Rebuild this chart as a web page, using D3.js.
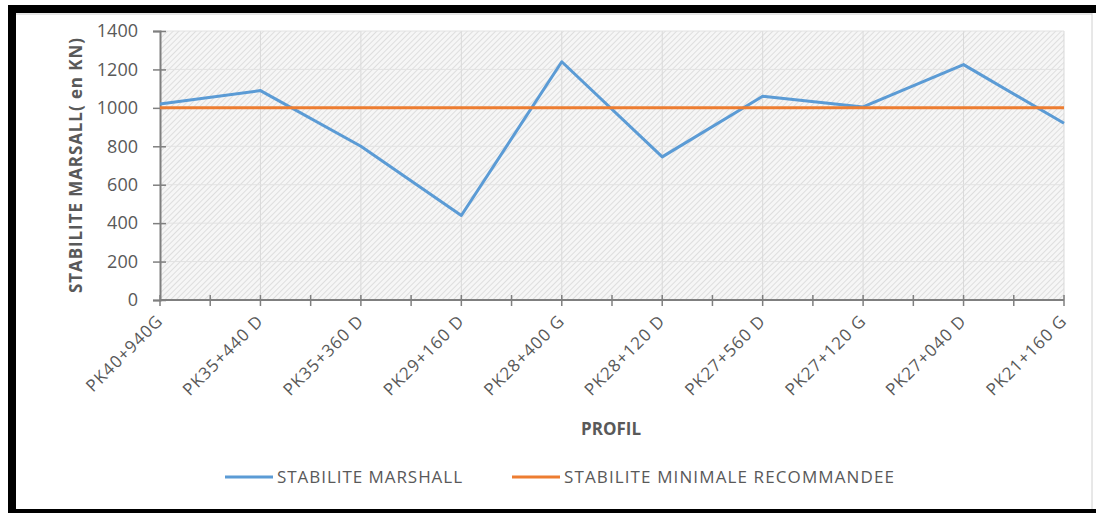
<!DOCTYPE html>
<html>
<head>
<meta charset="utf-8">
<script src="https://cdn.jsdelivr.net/npm/d3@7"></script>
<style>
  html, body { margin: 0; padding: 0; background: #fff; }
  svg { display: block; font-family: "Open Sans", sans-serif; }
</style>
</head>
<body>
<div id="chart"></div>
<script>
// données
const categories = ['PK40+940G', 'PK35+440 D', 'PK35+360 D', 'PK29+160 D', 'PK28+400 G',
  'PK28+120 D', 'PK27+560 D', 'PK27+120 G', 'PK27+040 D', 'PK21+160 G']
const stabiliteMarshall = [1020, 1090, 800, 440, 1240, 745, 1060, 1005, 1225, 920]
const stabiliteMinimale = [1000, 1000, 1000, 1000, 1000, 1000, 1000, 1000, 1000, 1000]
const yTicks = [0, 200, 400, 600, 800, 1000, 1200, 1400]
const seriesNames = ['STABILITE MARSHALL', 'STABILITE MINIMALE RECOMMANDEE']

const width = 1096
const height = 513
const plot = { left: 160, right: 1064, top: 31, bottom: 300 }
const colors = ['#5b9bd5', '#ed7d31']
const textColor = '#595959'

const svg = d3.select('#chart').append('svg').attr('width', width).attr('height', height)

// cadre noir
svg.append('rect').attr('x', 8).attr('y', 5).attr('width', width - 8).attr('height', 8).attr('fill', '#000')
svg.append('rect').attr('x', 8).attr('y', 5).attr('width', 8).attr('height', height - 5).attr('fill', '#000')
svg.append('rect').attr('x', 8).attr('y', 509).attr('width', width - 8).attr('height', 4).attr('fill', '#000')
svg.append('line').attr('x1', 16).attr('x2', 1092).attr('y1', 14).attr('y2', 14).attr('stroke', '#ccc')
svg.append('line').attr('x1', 1092).attr('x2', 1092).attr('y1', 13).attr('y2', 509).attr('stroke', '#d0d0d0')

// motif hachuré du fond
const defs = svg.append('defs')
defs.append('pattern')
  .attr('id', 'hatch')
  .attr('patternUnits', 'userSpaceOnUse')
  .attr('width', 4).attr('height', 4)
  .attr('patternTransform', 'rotate(45)')
  .call(p => {
    p.append('rect').attr('width', 4).attr('height', 4).attr('fill', '#f6f6f6')
    p.append('line').attr('x1', 0).attr('y1', 0).attr('x2', 0).attr('y2', 4)
      .attr('stroke', '#d6d6d6').attr('stroke-width', 1.5)
  })

// échelles
const x = d3.scalePoint().domain(categories).range([plot.left, plot.right]).padding(0)
const y = d3.scaleLinear().domain([0, 1400]).range([plot.bottom, plot.top])

svg.append('rect')
  .attr('x', plot.left).attr('y', plot.top)
  .attr('width', plot.right - plot.left).attr('height', plot.bottom - plot.top)
  .attr('fill', 'url(#hatch)')

// grille
svg.append('g').selectAll('line').data(categories.slice(1)).join('line')
  .attr('x1', d => x(d)).attr('x2', d => x(d))
  .attr('y1', plot.top).attr('y2', plot.bottom)
  .attr('stroke', '#d9d9d9').attr('stroke-width', 1)
svg.append('g').selectAll('line').data(yTicks.slice(1)).join('line')
  .attr('x1', plot.left).attr('x2', plot.right)
  .attr('y1', d => y(d)).attr('y2', d => y(d))
  .attr('stroke', '#e2e2e2').attr('stroke-width', 1)

// axe Y
const yAxis = d3.axisLeft(y).tickValues(yTicks).tickFormat(d => d).tickSize(7).tickPadding(15)
const gy = svg.append('g').attr('transform', 'translate(' + plot.left + ',0)').call(yAxis)
gy.select('.domain').attr('stroke', '#7f7f7f').attr('stroke-width', 2)
gy.selectAll('.tick line').attr('x1', 6).attr('stroke', '#7f7f7f').attr('stroke-width', 1.5)
gy.selectAll('.tick text').attr('fill', textColor).attr('font-size', 18).attr('font-family', '"Open Sans", sans-serif')

// axe X (graduations aux catégories et à mi-chemin)
const step = x.step()
const xTickPos = []
categories.forEach((c, i) => {
  xTickPos.push(x(c))
  if (i < categories.length - 1) xTickPos.push(x(c) + step / 2)
})
const gx = svg.append('g')
gx.append('line').attr('x1', plot.left).attr('x2', plot.right)
  .attr('y1', plot.bottom).attr('y2', plot.bottom)
  .attr('stroke', '#7f7f7f').attr('stroke-width', 2)
gx.selectAll('.xt').data(xTickPos).join('line').attr('class', 'xt')
  .attr('x1', d => d).attr('x2', d => d)
  .attr('y1', plot.bottom - 5).attr('y2', plot.bottom + 6)
  .attr('stroke', '#7f7f7f').attr('stroke-width', 1.5)
gx.selectAll('text').data(categories).join('text')
  .attr('transform', d => 'translate(' + (x(d) + 4) + ',' + 322 + ') rotate(-45)')
  .attr('text-anchor', 'end')
  .attr('fill', textColor)
  .attr('font-size', 17)
  .attr('letter-spacing', 1)
  .text(d => d)

// titres des axes
svg.append('text')
  .attr('transform', 'translate(82,' + ((plot.top + plot.bottom) / 2) + ') rotate(-90)')
  .attr('text-anchor', 'middle')
  .attr('fill', textColor).attr('font-size', 17).attr('font-weight', 'bold')
  .attr('textLength', 255)
  .text('STABILITE MARSALL( en KN)')
svg.append('text')
  .attr('x', 611).attr('y', 435)
  .attr('text-anchor', 'middle')
  .attr('fill', textColor).attr('font-size', 17).attr('font-weight', 'bold')
  .text('PROFIL')

// courbes
const line = d3.line().x((d, i) => x(categories[i])).y(d => y(d))
;[stabiliteMarshall, stabiliteMinimale].forEach((serie, i) => {
  svg.append('path').datum(serie)
    .attr('d', line)
    .attr('fill', 'none')
    .attr('stroke', colors[i])
    .attr('stroke-width', 3)
    .attr('stroke-linejoin', 'round')
})

// légende
const legendPos = [225, 512]
const legendTextWidth = [185, 330]
seriesNames.forEach((name, i) => {
  const g = svg.append('g').attr('transform', 'translate(' + legendPos[i] + ',477)')
  g.append('line').attr('x1', 0).attr('x2', 48).attr('stroke', colors[i]).attr('stroke-width', 3)
  g.append('text').attr('x', 52).attr('y', 6).attr('fill', textColor).attr('font-size', 17)
    .attr('textLength', legendTextWidth[i])
    .text(name)
})
</script>
</body>
</html>
